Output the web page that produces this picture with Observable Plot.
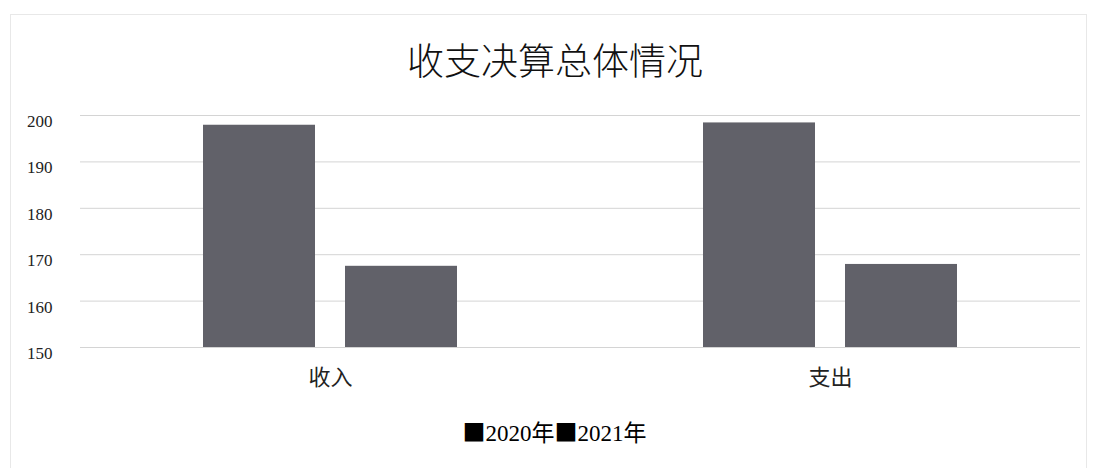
<!DOCTYPE html>
<html>
<head>
<meta charset="utf-8">
<script src="https://cdn.jsdelivr.net/npm/d3@7"></script>
<script src="https://cdn.jsdelivr.net/npm/@observablehq/plot@0.6"></script>
<style>
  html, body { margin: 0; padding: 0; background: #fff; }
  #wrap { position: relative; width: 1097px; height: 468px; overflow: hidden; background: #fff; }
  #frame { position: absolute; left: 10px; top: 14px; width: 1077px; height: 460px; border: 1px solid #e8e8e8; box-sizing: border-box; }
  #title { position: absolute; left: 0; top: 37px; width: 1110px; text-align: center; font-family: "Noto Sans CJK SC", sans-serif; font-weight: 300; font-size: 37px; line-height: 44px; color: #111; }
  #chart { position: absolute; left: 0; top: 95px; }
  #legend { position: absolute; left: 6px; top: 416px; width: 1097px; text-align: center; font-family: "Liberation Serif", "Noto Sans CJK SC", serif; font-size: 23px; line-height: 30px; color: #000; }
  #legend .sq { font-family: "Noto Sans CJK SC", sans-serif; }
  #chart svg [aria-label^="fx-axis"] text { font-family: "Noto Sans CJK SC", sans-serif; font-size: 22px; }
  #chart svg [aria-label^="y-axis"] text { font-family: "Liberation Serif", serif; font-size: 17px; }
</style>
</head>
<body>
<div id="wrap">
  <div id="frame"></div>
  <div id="title"></div>
  <div id="chart"></div>
  <div id="legend"></div>
</div>
<script>
const titleText = "收支决算总体情况";
const categories = ["收入", "支出"];
const years = ["2020年", "2021年"];
const values2020 = [197.9, 198.4];
const values2021 = [167.5, 167.9];
const yTicks = [150, 160, 170, 180, 190, 200];
const barColor = "#616169";

const data = [];
categories.forEach((c, i) => {
  data.push({category: c, year: years[0], value: values2020[i]});
  data.push({category: c, year: years[1], value: values2021[i]});
});

const yMin = yTicks[0];
const yMax = yTicks[yTicks.length - 1];

document.getElementById("title").textContent = titleText;
const legend = document.getElementById("legend");
years.forEach(y => {
  const sq = document.createElement("span");
  sq.className = "sq";
  sq.textContent = "■";
  legend.appendChild(sq);
  legend.appendChild(document.createTextNode(y));
});

const chart = Plot.plot({
  width: 1097,
  height: 302,
  marginLeft: 80,
  marginRight: 17,
  marginTop: 20,
  marginBottom: 50,
  style: {fontFamily: "Liberation Serif", fontSize: "17px", color: "#222", background: "transparent"},
  facet: {data, x: "category"},
  fx: {domain: categories, padding: 0, label: null, tickSize: 0, tickPadding: 22, axis: "bottom"},
  x: {domain: years, axis: null, paddingInner: 0.211, paddingOuter: 0.866},
  y: {domain: [yMin, yMax], ticks: yTicks, tickSize: 0, tickPadding: 28, label: null},
  marks: [
    Plot.ruleY(yTicks, {stroke: "#d4d4d4", strokeWidth: 1}),
    Plot.barY(data, {x: "year", y1: yMin, y2: "value", fill: barColor})
  ]
});
document.getElementById("chart").appendChild(chart);
chart.querySelectorAll('[aria-label^="y-axis"] text').forEach(t => t.setAttribute("dy", "0.36em"));
</script>
</body>
</html>
